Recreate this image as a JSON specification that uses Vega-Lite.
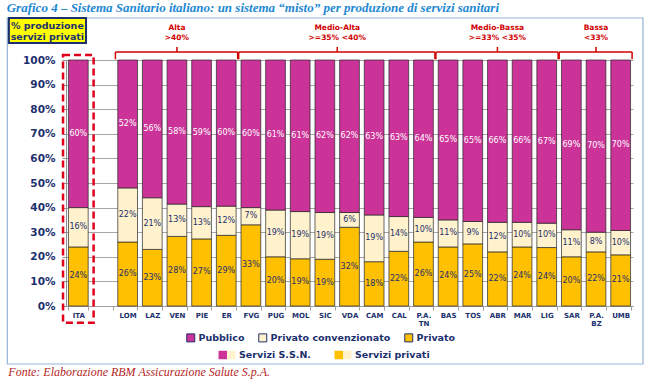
{
  "$schema": "https://vega.github.io/schema/vega-lite/v6.json",
  "autosize": {"type": "none"},
  "padding": {"left": 66, "top": 60, "right": 18, "bottom": 78},
  "width": 567,
  "height": 246,
  "background": "white",
  "title": {
    "text": "Grafico 4 – Sistema Sanitario italiano: un sistema “misto” per produzione di servizi sanitari",
    "anchor": "start",
    "frame": "bounds",
    "font": "Liberation Serif",
    "fontSize": 13,
    "fontStyle": "italic",
    "fontWeight": "bold",
    "color": "#1E88D2",
    "offset": 2
  },
  "config": {
    "view": {"stroke": null},
    "axisY": {"tickCount": 10, "labelOverlap": false, "format": ".0%"}
  },
  "resolve": {"scale": {"shape": "independent"}, "legend": {"shape": "independent"}},
  "datasets": {
    "br": [
      {"g": "A", "t": "Alta\n>40%", "x1": "LOM", "x2": "ER", "xc": "VEN"},
      {"g": "MA", "t": "Medio-Alta\n>=35% <40%", "x1": "FVG", "x2": "P.A. TN", "xc": "VDA"},
      {"g": "MB", "t": "Medio-Bassa\n>=33% <35%", "x1": "BAS", "x2": "LIG", "xc": "ABR"},
      {"g": "B", "t": "Bassa\n<33%", "x1": "SAR", "x2": "UMB", "xc": "P.A. BZ"}
    ]
  },
  "data": {"values": [
    {"r": "ITA", "c": "Privato", "v": 0.24}, {"r": "ITA", "c": "Privato convenzionato", "v": 0.16}, {"r": "ITA", "c": "Pubblico", "v": 0.60},
    {"r": "LOM", "c": "Privato", "v": 0.26}, {"r": "LOM", "c": "Privato convenzionato", "v": 0.22}, {"r": "LOM", "c": "Pubblico", "v": 0.52},
    {"r": "LAZ", "c": "Privato", "v": 0.23}, {"r": "LAZ", "c": "Privato convenzionato", "v": 0.21}, {"r": "LAZ", "c": "Pubblico", "v": 0.56},
    {"r": "VEN", "c": "Privato", "v": 0.28}, {"r": "VEN", "c": "Privato convenzionato", "v": 0.13}, {"r": "VEN", "c": "Pubblico", "v": 0.58},
    {"r": "PIE", "c": "Privato", "v": 0.27}, {"r": "PIE", "c": "Privato convenzionato", "v": 0.13}, {"r": "PIE", "c": "Pubblico", "v": 0.59},
    {"r": "ER", "c": "Privato", "v": 0.29}, {"r": "ER", "c": "Privato convenzionato", "v": 0.12}, {"r": "ER", "c": "Pubblico", "v": 0.60},
    {"r": "FVG", "c": "Privato", "v": 0.33}, {"r": "FVG", "c": "Privato convenzionato", "v": 0.07}, {"r": "FVG", "c": "Pubblico", "v": 0.60},
    {"r": "PUG", "c": "Privato", "v": 0.20}, {"r": "PUG", "c": "Privato convenzionato", "v": 0.19}, {"r": "PUG", "c": "Pubblico", "v": 0.61},
    {"r": "MOL", "c": "Privato", "v": 0.19}, {"r": "MOL", "c": "Privato convenzionato", "v": 0.19}, {"r": "MOL", "c": "Pubblico", "v": 0.61},
    {"r": "SIC", "c": "Privato", "v": 0.19}, {"r": "SIC", "c": "Privato convenzionato", "v": 0.19}, {"r": "SIC", "c": "Pubblico", "v": 0.62},
    {"r": "VDA", "c": "Privato", "v": 0.32}, {"r": "VDA", "c": "Privato convenzionato", "v": 0.06}, {"r": "VDA", "c": "Pubblico", "v": 0.62},
    {"r": "CAM", "c": "Privato", "v": 0.18}, {"r": "CAM", "c": "Privato convenzionato", "v": 0.19}, {"r": "CAM", "c": "Pubblico", "v": 0.63},
    {"r": "CAL", "c": "Privato", "v": 0.22}, {"r": "CAL", "c": "Privato convenzionato", "v": 0.14}, {"r": "CAL", "c": "Pubblico", "v": 0.63},
    {"r": "P.A. TN", "c": "Privato", "v": 0.26}, {"r": "P.A. TN", "c": "Privato convenzionato", "v": 0.10}, {"r": "P.A. TN", "c": "Pubblico", "v": 0.64},
    {"r": "BAS", "c": "Privato", "v": 0.24}, {"r": "BAS", "c": "Privato convenzionato", "v": 0.11}, {"r": "BAS", "c": "Pubblico", "v": 0.65},
    {"r": "TOS", "c": "Privato", "v": 0.25}, {"r": "TOS", "c": "Privato convenzionato", "v": 0.09}, {"r": "TOS", "c": "Pubblico", "v": 0.65},
    {"r": "ABR", "c": "Privato", "v": 0.22}, {"r": "ABR", "c": "Privato convenzionato", "v": 0.12}, {"r": "ABR", "c": "Pubblico", "v": 0.66},
    {"r": "MAR", "c": "Privato", "v": 0.24}, {"r": "MAR", "c": "Privato convenzionato", "v": 0.10}, {"r": "MAR", "c": "Pubblico", "v": 0.66},
    {"r": "LIG", "c": "Privato", "v": 0.24}, {"r": "LIG", "c": "Privato convenzionato", "v": 0.10}, {"r": "LIG", "c": "Pubblico", "v": 0.67},
    {"r": "SAR", "c": "Privato", "v": 0.20}, {"r": "SAR", "c": "Privato convenzionato", "v": 0.11}, {"r": "SAR", "c": "Pubblico", "v": 0.69},
    {"r": "P.A. BZ", "c": "Privato", "v": 0.22}, {"r": "P.A. BZ", "c": "Privato convenzionato", "v": 0.08}, {"r": "P.A. BZ", "c": "Pubblico", "v": 0.70},
    {"r": "UMB", "c": "Privato", "v": 0.21}, {"r": "UMB", "c": "Privato convenzionato", "v": 0.10}, {"r": "UMB", "c": "Pubblico", "v": 0.70}
  ]},
  "transform": [
    {"stack": "v", "groupby": ["r"], "sort": [{"field": "c", "order": "ascending"}], "offset": "normalize", "as": ["v0", "v1"]},
    {"calculate": "(datum.v0 + datum.v1) / 2", "as": "mid"}
  ],
  "layer": [
    {
      "mark": {"type": "bar", "stroke": "#262626", "strokeWidth": 0.7},
      "encoding": {
        "x": {
          "field": "r", "type": "nominal",
          "scale": {"domain": ["ITA", "_gap", "LOM", "LAZ", "VEN", "PIE", "ER", "FVG", "PUG", "MOL", "SIC", "VDA", "CAM", "CAL", "P.A. TN", "BAS", "TOS", "ABR", "MAR", "LIG", "SAR", "P.A. BZ", "UMB"], "paddingInner": 0.2, "paddingOuter": 0.1},
          "axis": {
            "title": null, "labelAngle": 0, "labelFont": "DejaVu Sans", "labelFontWeight": "bold", "labelFontSize": 7,
            "labelColor": "#1c2f6e", "labelExpr": "datum.label == '_gap' ? '' : split(datum.label, ' ')",
            "tickBand": "extent", "tickSize": 4, "tickColor": "#a0a0a0", "domainColor": "#a0a0a0",
            "labelPadding": 1, "labelLineHeight": 8.5, "grid": false
          }
        },
        "y": {
          "field": "v0", "type": "quantitative",
          "scale": {"domain": [0, 1], "nice": false},
          "axis": {
            "title": null, "tickCount": 10, "format": ".0%", "labelOverlap": false,
            "labelFont": "DejaVu Sans", "labelFontWeight": "bold", "labelFontSize": 10.5, "labelColor": "#1c2f6e",
            "grid": true, "gridColor": "#a6a6a6", "domainColor": "#8c8c8c", "tickColor": "#8c8c8c", "tickSize": 4, "labelPadding": 7
          }
        },
        "y2": {"field": "v1"},
        "color": {
          "field": "c", "type": "nominal",
          "scale": {"domain": ["Pubblico", "Privato convenzionato", "Privato"], "range": ["#CC3399", "#FFF2CC", "#FFC000"]},
          "legend": {
            "orient": "none", "legendX": 120, "legendY": 273, "direction": "horizontal", "title": null,
            "symbolType": "square", "symbolSize": 64, "symbolStrokeColor": "#1c2f6e", "symbolStrokeWidth": 1, "symbolOpacity": 1,
            "labelFont": "DejaVu Sans", "labelFontWeight": "bold", "labelFontSize": 9.5,
            "labelColor": "#1c2f6e", "columnPadding": 11, "labelOffset": 3, "padding": 0
          }
        }
      }
    },
    {
      "mark": {"type": "text", "font": "DejaVu Sans", "fontSize": 8, "baseline": "middle"},
      "encoding": {
        "x": {"field": "r", "type": "nominal"},
        "y": {"field": "mid", "type": "quantitative"},
        "text": {"field": "v", "type": "quantitative", "format": ".0%"},
        "color": {"condition": {"test": "datum.c === 'Pubblico'", "value": "white"}, "value": "#1c2f6e"}
      }
    },
    {
      "data": {"values": [{"s": "Servizi S.S.N."}]},
      "mark": {
        "type": "point", "filled": true, "size": 4, "stroke": "#1c2f6e", "strokeWidth": 1, "opacity": 1,
        "fill": {"gradient": "linear", "x1": 0, "y1": 0, "x2": 1, "y2": 0, "stops": [{"offset": 0, "color": "#CC3399"}, {"offset": 0.5, "color": "#CC3399"}, {"offset": 0.5, "color": "#FFF2CC"}, {"offset": 1, "color": "#FFF2CC"}]}
      },
      "encoding": {
        "x": {"datum": "ITA", "type": "nominal", "bandPosition": -2.5},
        "y": {"datum": 1.12, "type": "quantitative"},
        "shape": {
          "field": "s", "type": "nominal",
          "scale": {"domain": ["Servizi S.S.N."], "range": ["M-1,-0.5H0V0.5H-1Z M0,-0.5H1V0.5H0Z"]},
          "legend": {
            "orient": "none", "legendX": 152, "legendY": 286, "direction": "horizontal", "title": null,
            "symbolSize": 289, "symbolStrokeColor": "#1c2f6e", "symbolStrokeWidth": 1, "symbolOpacity": 1,
            "labelFont": "DejaVu Sans", "labelFontWeight": "bold", "labelFontSize": 9.5,
            "labelColor": "#1c2f6e", "labelOffset": 3, "padding": 0
          }
        }
      }
    },
    {
      "data": {"values": [{"s2": "Servizi privati"}]},
      "mark": {
        "type": "point", "filled": true, "size": 4, "stroke": "#1c2f6e", "strokeWidth": 1, "opacity": 1,
        "fill": {"gradient": "linear", "x1": 0, "y1": 0, "x2": 1, "y2": 0, "stops": [{"offset": 0, "color": "#FFC000"}, {"offset": 0.5, "color": "#FFC000"}, {"offset": 0.5, "color": "#FFF2CC"}, {"offset": 1, "color": "#FFF2CC"}]}
      },
      "encoding": {
        "x": {"datum": "ITA", "type": "nominal", "bandPosition": -2.5},
        "y": {"datum": 1.12, "type": "quantitative"},
        "shape": {
          "field": "s2", "type": "nominal",
          "scale": {"domain": ["Servizi privati"], "range": ["M-1,-0.5H0V0.5H-1Z M0,-0.5H1V0.5H0Z"]},
          "legend": {
            "orient": "none", "legendX": 268, "legendY": 286, "direction": "horizontal", "title": null,
            "symbolSize": 289, "symbolStrokeColor": "#1c2f6e", "symbolStrokeWidth": 1, "symbolOpacity": 1,
            "labelFont": "DejaVu Sans", "labelFontWeight": "bold", "labelFontSize": 9.5,
            "labelColor": "#1c2f6e", "labelOffset": 3, "padding": 0
          }
        }
      }
    },
    {
      "data": {"values": [{}]},
      "mark": {"type": "rect", "fill": null, "fillOpacity": 0, "stroke": "#95B3D7", "strokeWidth": 1.2},
      "encoding": {
        "x": {"datum": "ITA", "type": "nominal", "bandPosition": -3.1},
        "x2": {"datum": "UMB", "bandPosition": 1.63},
        "y": {"datum": 1.1707, "type": "quantitative"},
        "y2": {"datum": -0.2358}
      }
    },
    {
      "data": {"values": [{"t": "% produzione\nservizi privati"}]},
      "layer": [
        {
          "mark": {"type": "rect", "fill": "#FFFF00", "stroke": "#1c2f6e", "strokeWidth": 2},
          "encoding": {
            "x": {"datum": "ITA", "type": "nominal", "bandPosition": -3.02},
            "x2": {"datum": "ITA", "bandPosition": 0.89},
            "y": {"datum": 1.1707, "type": "quantitative"},
            "y2": {"datum": 1.069}
          }
        },
        {
          "mark": {"type": "text", "font": "DejaVu Sans", "fontWeight": "bold", "fontSize": 9.5, "color": "#1c2f6e", "align": "center", "baseline": "middle", "lineBreak": "\n", "lineHeight": 11},
          "encoding": {
            "x": {"datum": "ITA", "type": "nominal", "bandPosition": -1.07},
            "y": {"datum": 1.138, "type": "quantitative"},
            "text": {"field": "t"}
          }
        }
      ]
    },
    {
      "data": {"values": [{}]},
      "mark": {"type": "bar", "width": {"band": 1.55}, "fill": null, "fillOpacity": 0, "stroke": "#E0001B", "strokeWidth": 2.5, "strokeDash": [7, 4]},
      "encoding": {
        "x": {"datum": "ITA", "type": "nominal"},
        "y": {"datum": 1.0203, "type": "quantitative"},
        "y2": {"datum": -0.068}
      }
    },
    {
      "data": {"name": "br"},
      "layer": [
        {
          "mark": {"type": "rule", "color": "#D00000", "strokeWidth": 1.5},
          "encoding": {
            "x": {"field": "x1", "type": "nominal", "bandPosition": -0.12},
            "x2": {"field": "x2", "bandPosition": 1.08},
            "y": {"datum": 1.0325, "type": "quantitative"}
          }
        },
        {
          "mark": {"type": "rule", "color": "#D00000", "strokeWidth": 1.5},
          "encoding": {
            "x": {"field": "x1", "type": "nominal", "bandPosition": -0.12},
            "y": {"datum": 1.003, "type": "quantitative"},
            "y2": {"datum": 1.0325}
          }
        },
        {
          "mark": {"type": "rule", "color": "#D00000", "strokeWidth": 1.5},
          "encoding": {
            "x": {"field": "x2", "type": "nominal", "bandPosition": 1.08},
            "y": {"datum": 1.003, "type": "quantitative"},
            "y2": {"datum": 1.0325}
          }
        },
        {
          "transform": [{"filter": "datum.g !== 'MA'"}],
          "layer": [
            {
              "mark": {"type": "rule", "color": "#D00000", "strokeWidth": 1.5},
              "encoding": {
                "x": {"field": "xc", "type": "nominal", "bandPosition": 0.5},
                "y": {"datum": 1.0325, "type": "quantitative"},
                "y2": {"datum": 1.0528}
              }
            },
            {
              "mark": {"type": "text", "font": "DejaVu Sans", "fontWeight": "bold", "fontSize": 7.5, "color": "#D00000", "align": "center", "baseline": "middle", "lineBreak": "\n", "lineHeight": 10},
              "encoding": {
                "x": {"field": "xc", "type": "nominal", "bandPosition": 0.5},
                "y": {"datum": 1.13, "type": "quantitative"},
                "text": {"field": "t"}
              }
            }
          ]
        },
        {
          "transform": [{"filter": "datum.g === 'MA'"}],
          "layer": [
            {
              "mark": {"type": "rule", "color": "#D00000", "strokeWidth": 1.5},
              "encoding": {
                "x": {"field": "xc", "type": "nominal", "bandPosition": -0.12},
                "y": {"datum": 1.0325, "type": "quantitative"},
                "y2": {"datum": 1.0528}
              }
            },
            {
              "mark": {"type": "text", "font": "DejaVu Sans", "fontWeight": "bold", "fontSize": 7.5, "color": "#D00000", "align": "center", "baseline": "middle", "lineBreak": "\n", "lineHeight": 10},
              "encoding": {
                "x": {"field": "xc", "type": "nominal", "bandPosition": -0.12},
                "y": {"datum": 1.13, "type": "quantitative"},
                "text": {"field": "t"}
              }
            }
          ]
        }
      ]
    },
    {
      "data": {"values": [{"t": "Fonte: Elaborazione RBM Assicurazione Salute S.p.A."}]},
      "mark": {"type": "text", "font": "Liberation Serif", "fontStyle": "italic", "fontSize": 12, "color": "#B3261E", "align": "left", "baseline": "middle"},
      "encoding": {
        "x": {"datum": "ITA", "type": "nominal", "bandPosition": -3.05},
        "y": {"datum": -0.268, "type": "quantitative"},
        "text": {"field": "t"}
      }
    }
  ]
}
